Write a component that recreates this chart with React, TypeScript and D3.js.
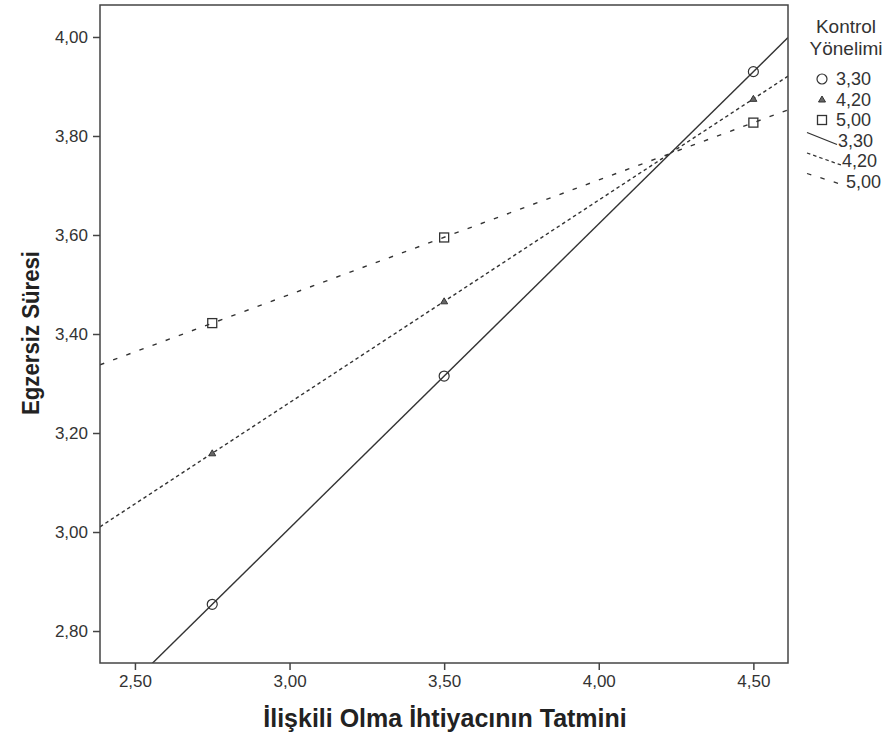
import React, { useEffect, useRef } from 'react';
import * as d3 from 'd3';

// x positions of the plotted points (İlişkili Olma İhtiyacının Tatmini)
const xValues = [2.75, 3.5, 4.5];
// Kontrol Yönelimi levels
const groups = ['3,30', '4,20', '5,00'];
// predicted Egzersiz Süresi for each level
const values330 = [2.854, 3.315, 3.93];
const values420 = [3.159, 3.466, 3.875];
const values500 = [3.422, 3.595, 3.827];
const seriesValues = [values330, values420, values500];

const xTicks = [2.5, 3.0, 3.5, 4.0, 4.5];
const yTicks = [2.8, 3.0, 3.2, 3.4, 3.6, 3.8, 4.0];

const width = 891;
const height = 734;
const plot = { left: 100, right: 788, top: 5, bottom: 663 };
const ink = '#333';
const font = 'Arial, "Liberation Sans", sans-serif';
const titleFont = '"Liberation Sans Narrow", "Arial Narrow", Arial, sans-serif';
const dashes = [null, '3.5,3', '4.5,9.5'];

const fmt = (v: number) => v.toFixed(2).replace('.', ',');

// least squares line through the points of one series
function fitLine(xs: number[], ys: number[]) {
  const mx = d3.mean(xs)!;
  const my = d3.mean(ys)!;
  const num = d3.sum(xs, (x, i) => (x - mx) * (ys[i] - my));
  const den = d3.sum(xs, (x) => (x - mx) * (x - mx));
  const slope = num / den;
  return { slope, intercept: my - slope * mx };
}

function App() {
  const ref = useRef<SVGSVGElement>(null);

  useEffect(() => {
    if (!ref.current) return;
    const svg = d3.select(ref.current);
    svg.selectAll('*').remove();

    const x = d3.scaleLinear().domain([2.387, 4.612]).range([plot.left, plot.right]);
    const y = d3.scaleLinear().domain([2.7354, 4.0646]).range([plot.bottom, plot.top]);

    svg.append('rect').attr('width', width).attr('height', height).attr('fill', '#fff');

    svg.append('clipPath').attr('id', 'plot-clip')
      .append('rect')
      .attr('x', plot.left).attr('y', plot.top)
      .attr('width', plot.right - plot.left).attr('height', plot.bottom - plot.top);

    const content = svg.append('g').attr('clip-path', 'url(#plot-clip)');

    // fit lines
    seriesValues.forEach((vals, i) => {
      const { slope, intercept } = fitLine(xValues, vals);
      const [x0, x1] = x.domain();
      const line = content.append('line')
        .attr('x1', x(x0)).attr('y1', y(intercept + slope * x0))
        .attr('x2', x(x1)).attr('y2', y(intercept + slope * x1))
        .attr('stroke', ink)
        .attr('stroke-width', 1.4);
      if (dashes[i]) line.attr('stroke-dasharray', dashes[i]);
    });

    // markers
    const drawMarker = (g: any, kind: number, cx: number, cy: number) => {
      if (kind === 0) {
        g.append('circle').attr('cx', cx).attr('cy', cy).attr('r', 5)
          .attr('fill', 'none').attr('stroke', ink).attr('stroke-width', 1.2);
      } else if (kind === 1) {
        g.append('path')
          .attr('d', `M${cx},${cy - 3.5}L${cx + 3.5},${cy + 2.5}L${cx - 3.5},${cy + 2.5}Z`)
          .attr('fill', '#666').attr('stroke', ink).attr('stroke-width', 1);
      } else {
        g.append('rect').attr('x', cx - 4.5).attr('y', cy - 4.5).attr('width', 9).attr('height', 9)
          .attr('fill', 'none').attr('stroke', ink).attr('stroke-width', 1.3);
      }
    };
    seriesValues.forEach((vals, i) => {
      vals.forEach((v, j) => drawMarker(content, i, x(xValues[j]), y(v)));
    });

    // frame
    svg.append('rect')
      .attr('x', plot.left).attr('y', plot.top)
      .attr('width', plot.right - plot.left).attr('height', plot.bottom - plot.top)
      .attr('fill', 'none').attr('stroke', '#444').attr('stroke-width', 1.5);

    // y axis
    const yAxis = svg.append('g')
      .attr('transform', `translate(${plot.left},0)`)
      .call(d3.axisLeft(y).tickValues(yTicks).tickFormat((d: any) => fmt(d)).tickSize(7).tickPadding(5));
    yAxis.select('.domain').remove();
    yAxis.selectAll('line').attr('stroke', '#444').attr('stroke-width', 1.5);
    yAxis.selectAll('text').attr('font-family', font).attr('font-size', 17).attr('fill', ink);

    // x axis
    const xAxis = svg.append('g')
      .attr('transform', `translate(0,${plot.bottom})`)
      .call(d3.axisBottom(x).tickValues(xTicks).tickFormat((d: any) => fmt(d)).tickSize(7).tickPadding(5));
    xAxis.select('.domain').remove();
    xAxis.selectAll('line').attr('stroke', '#444').attr('stroke-width', 1.5);
    xAxis.selectAll('text').attr('font-family', font).attr('font-size', 17).attr('fill', ink);

    // axis titles
    svg.append('text')
      .attr('x', 445).attr('y', 727)
      .attr('text-anchor', 'middle')
      .attr('font-family', titleFont).attr('font-weight', 'bold').attr('font-size', 25)
      .attr('fill', '#222')
      .text('İlişkili Olma İhtiyacının Tatmini');

    svg.append('text')
      .attr('transform', `translate(39,333) rotate(-90)`)
      .attr('text-anchor', 'middle')
      .attr('font-family', titleFont).attr('font-weight', 'bold').attr('font-size', 24)
      .attr('textLength', 164).attr('lengthAdjust', 'spacingAndGlyphs')
      .attr('fill', '#222')
      .text('Egzersiz Süresi');

    // legend
    const legend = svg.append('g');
    legend.append('text').attr('x', 846).attr('y', 33).attr('text-anchor', 'middle')
      .attr('font-family', font).attr('font-size', 19).attr('fill', ink).text('Kontrol');
    legend.append('text').attr('x', 846).attr('y', 55).attr('text-anchor', 'middle')
      .attr('font-family', font).attr('font-size', 19).attr('fill', ink).text('Yönelimi');

    const rowY = (k: number) => 79 + k * 20.5;
    groups.forEach((g, i) => {
      const cy = rowY(i);
      drawMarker(legend, i, 822, cy);
      legend.append('text').attr('x', 836).attr('y', cy).attr('dy', '0.35em')
        .attr('font-family', font).attr('font-size', 18).attr('fill', ink).text(g);
    });
    groups.forEach((g, i) => {
      const cy = rowY(i + 3);
      const line = legend.append('line')
        .attr('x1', 807).attr('y1', cy - 8)
        .attr('x2', 837 + i * 4).attr('y2', cy + 4)
        .attr('stroke', ink).attr('stroke-width', 1.3);
      if (dashes[i]) line.attr('stroke-dasharray', dashes[i]);
      legend.append('text').attr('x', 838 + i * 4).attr('y', cy).attr('dy', '0.35em')
        .attr('font-family', font).attr('font-size', 18).attr('fill', ink).text(g);
    });
  }, []);

  return (
    <svg ref={ref} width={width} height={height}
      style={{ position: 'absolute', left: 0, top: 0 }} />
  );
}

export default App;
